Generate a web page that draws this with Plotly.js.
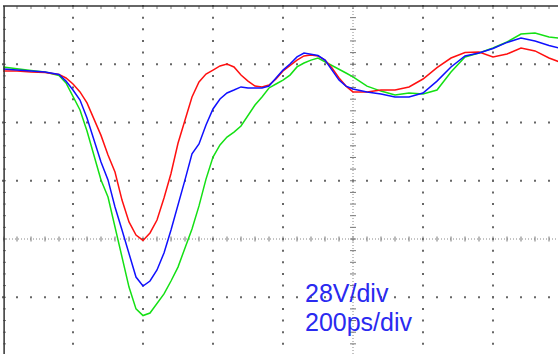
<!DOCTYPE html>
<html><head><meta charset="utf-8">
<script src="https://cdn.plot.ly/plotly-3.0.1.min.js"></script>
<style>html,body{margin:0;padding:0;overflow:hidden;background:#fff}#chart{width:558px;height:354px}</style>
</head><body><div id="chart"></div>
<script>
// ---- data (time in ps, voltage in V) ----
const timePs = [0,40,80,120,160,180,200,220,240,260,280,300,320,340,360,380,400,420,440,460,480,500,520,540,560,580,600,620,640,660,680,700,720,740,760,780,800,820,840,860,880,900,920,940,960,980,1000,1040,1080,1120,1160,1200,1240,1280,1320,1360,1400,1440,1480,1520,1560,1590];
const redV = [80.8,80.8,80.3,80.0,79.1,77.4,74.5,70.7,65.4,57.4,49.8,40.4,32.2,18.7,8.2,1.9,-0.7,2.9,9.1,19.7,31.5,46.0,57.0,68.3,75.5,79.3,81.2,83.2,84.1,82.7,78.8,75.9,73.5,73.1,74.0,76.9,80.8,83.6,86.0,88.0,88.4,88.0,86.0,82.2,77.4,73.5,70.7,70.7,71.6,71.6,73.1,76.9,82.4,87.0,89.6,89.9,87.5,88.9,91.8,90.4,87.0,85.1];
const blueV = [81.7,81.2,80.8,80.3,79.1,75.9,71.6,66.8,58.2,47.6,37.0,28.4,15.4,4.3,-6.7,-18.3,-22.6,-20.2,-14.9,-6.7,4.3,15.9,28.4,40.9,45.7,54.8,62.5,67.3,70.2,71.6,73.1,72.6,72.6,72.6,73.5,77.4,81.2,84.1,87.5,89.4,88.9,88.2,86.0,81.2,76.4,73.5,72.1,70.7,69.7,68.3,68.3,70.2,75.9,82.7,88.0,89.4,91.6,94.5,96.6,95.2,93.0,91.8];
const greenV = [82.7,81.7,81.0,80.3,78.6,75.0,68.3,62.0,51.9,39.9,28.4,20.2,5.8,-10.1,-23.1,-33.6,-36.8,-35.6,-31.2,-26.4,-20.2,-13.5,-4.3,4.8,15.9,28.8,39.4,45.2,49.0,51.4,54.3,59.1,64.4,68.3,72.6,74.5,76.4,78.8,82.7,84.6,86.0,87.0,85.3,83.6,81.7,79.8,77.9,73.5,71.1,69.2,70.2,69.7,71.6,80.3,87.5,89.4,91.8,94.7,98.5,99.0,97.1,96.6];
const voltLabel = '28V/div';
const timeLabel = '200ps/div';
const VDIV = 28, TDIV = 200;

// ---- screen geometry ----
const pxDivX = 70, pxDivY = 58.25;
const plotW = 555, plotH = 348;
const tPerPx = TDIV / pxDivX, vPerPx = VDIV / pxDivY;
const X0 = 0, X1 = plotW * tPerPx;
const Y1 = 4 * VDIV, Y0 = Y1 - plotH * vPerPx;
const CT = 5 * TDIV; // centre time line

const traces = [];
// grid dots
const dx = [], dy = [];
for (let k = 1; k <= 7; k++) { if (k === 5) continue; for (let j = -10; j <= 20; j++) { dx.push(k * TDIV); dy.push(j * VDIV / 5); } }
for (const m of [-1, 1, 2, 3]) { for (let i = 0; i <= 40; i++) { dx.push(i * TDIV / 5); dy.push(m * VDIV); } }
traces.push({x: dx, y: dy, mode: 'markers', type: 'scatter', marker: {symbol: 'square', size: 2, color: '#666', line: {width: 0}}, hoverinfo: 'skip', cliponaxis: false});
// centre axes
traces.push({x: [X0, X1], y: [0, 0], mode: 'lines', line: {color: '#888', width: 1, dash: '1px,2px'}, hoverinfo: 'skip'});
traces.push({x: [CT, CT], y: [Y0, Y1], mode: 'lines', line: {color: '#888', width: 1, dash: '1px,2px'}, hoverinfo: 'skip'});
// centre ticks + border ticks
const tx = [], ty = [];
for (let j = -10; j <= 20; j++) { const v = j * VDIV / 5; tx.push(CT - 3 * tPerPx, CT + 3 * tPerPx, null); ty.push(v, v, null); }
for (let i = 0; i <= 40; i++) { const t = i * TDIV / 5; tx.push(t, t, null); ty.push(-2.5 * vPerPx, 2.5 * vPerPx, null); }
for (let i = 1; i <= 40; i++) { const t = i * TDIV / 5; tx.push(t, t, null); ty.push(Y1, Y1 - 3 * vPerPx, null); }
for (let j = -10; j <= 19; j++) { const v = j * VDIV / 5; tx.push(X0, X0 + 3 * tPerPx, null); ty.push(v, v, null); }
traces.push({x: tx, y: ty, mode: 'lines', line: {color: '#777', width: 1}, hoverinfo: 'skip', connectgaps: false});

// signals
traces.push({x: timePs, y: greenV, mode: 'lines', line: {color: '#14e014', width: 1.5}, name: 'green'});
traces.push({x: timePs, y: redV, mode: 'lines', line: {color: '#ff1010', width: 1.5}, name: 'red'});
traces.push({x: timePs, y: blueV, mode: 'lines', line: {color: '#1010ff', width: 1.5}, name: 'blue'});

const layout = {
  width: 558, height: 354,
  margin: {l: 3, r: 0, t: 6, b: 0, pad: 0},
  paper_bgcolor: '#fff', plot_bgcolor: '#fff',
  showlegend: false, hovermode: false,
  xaxis: {range: [X0, X1], visible: false, fixedrange: true},
  yaxis: {range: [Y0, Y1], visible: false, fixedrange: true},
  shapes: [
    {type: 'line', xref: 'paper', yref: 'paper', x0: 0, x1: 1, y0: 1, y1: 1, line: {color: '#333', width: 1.5}},
    {type: 'line', xref: 'paper', yref: 'paper', x0: 0.002, x1: 0.002, y0: 0, y1: 1, line: {color: '#333', width: 1.5}}
  ],
  annotations: [
    {text: voltLabel, xref: 'paper', yref: 'paper', x: (303 - 3) / plotW, y: (354 - 293) / plotH, xanchor: 'left', yanchor: 'middle', showarrow: false, font: {family: 'Liberation Sans, Arial, sans-serif', size: 25, color: '#2a2af0'}},
    {text: timeLabel, xref: 'paper', yref: 'paper', x: (303 - 3) / plotW, y: (354 - 322) / plotH, xanchor: 'left', yanchor: 'middle', showarrow: false, font: {family: 'Liberation Sans, Arial, sans-serif', size: 25, color: '#2a2af0'}}
  ]
};
Plotly.newPlot('chart', traces, layout, {staticPlot: true, displayModeBar: false});
</script>
</body></html>
